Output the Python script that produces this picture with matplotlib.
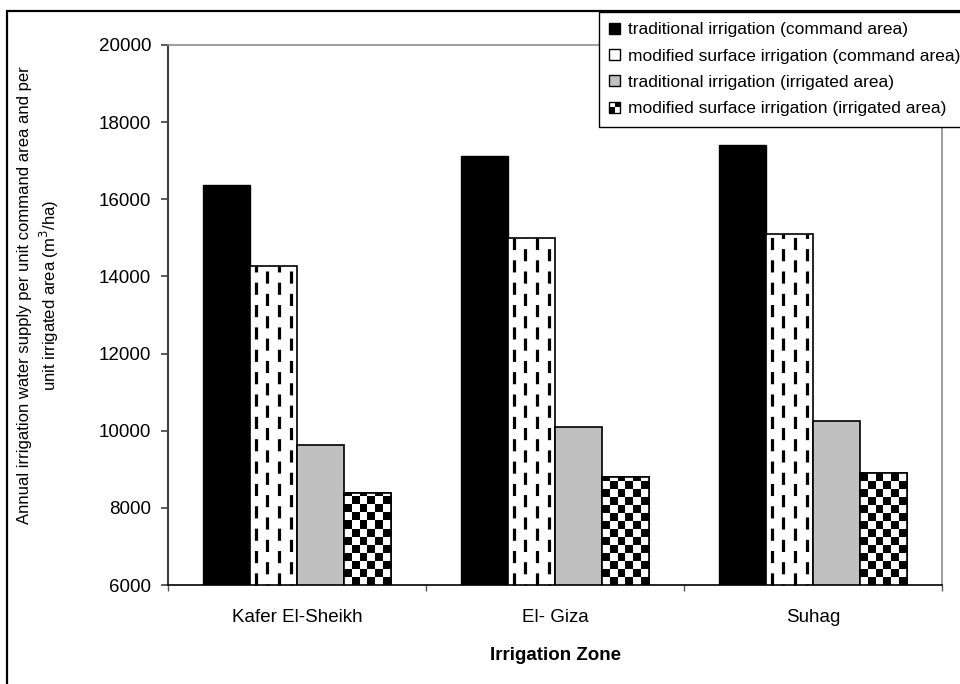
#!/usr/bin/env python3
import numpy as np
import matplotlib
matplotlib.use('Agg')
import matplotlib.pyplot as plt
from matplotlib.patches import Rectangle
from matplotlib.colors import ListedColormap
from matplotlib.legend_handler import HandlerBase

plt.rcParams['font.family'] = ['Liberation Sans', 'DejaVu Sans']

zones = ['Kafer El-Sheikh', 'El- Giza', 'Suhag']
trad_cmd = [16370, 17120, 17400]   # traditional irrigation (command area)
mod_cmd = [14280, 15000, 15100]    # modified surface irrigation (command area)
trad_irr = [9630, 10100, 10250]    # traditional irrigation (irrigated area)
mod_irr = [8390, 8800, 8900]       # modified surface irrigation (irrigated area)

legend_labels = ['traditional irrigation (command area)',
                 'modified surface irrigation (command area)',
                 'traditional irrigation (irrigated area)',
                 'modified surface irrigation (irrigated area)']

ymin, ymax = 6000, 20000
my_yticks = np.arange(6000, 20001, 2000)


class CheckerHandler(HandlerBase):
    def create_artists(self, legend, orig_handle, xdescent, ydescent,
                       width, height, fontsize, trans):
        x0, y0 = -xdescent, -ydescent
        hw, hh = width / 2, height / 2
        base = Rectangle((x0, y0), width, height, facecolor='white',
                         edgecolor='black', lw=1, transform=trans)
        q1 = Rectangle((x0 + hw, y0 + hh), hw, hh, facecolor='black', lw=0, transform=trans)
        q2 = Rectangle((x0, y0), hw, hh, facecolor='black', lw=0, transform=trans)
        return [base, q1, q2]


fig = plt.figure(figsize=(9.6, 6.84), dpi=100)
ax = fig.add_axes([168/960, 99/684, (942-168)/960, 540/684])

X_axis = np.arange(len(zones))
barwidth = 0.182

b1 = ax.bar(X_axis - barwidth*1.5, trad_cmd, width=barwidth, bottom=0, color='black',
            edgecolor='black', lw=1, zorder=2)
b2 = ax.bar(X_axis - barwidth*0.5, mod_cmd, width=barwidth, color='white',
            edgecolor='black', lw=1.2, zorder=2)
b3 = ax.bar(X_axis + barwidth*0.5, trad_irr, width=barwidth, color='#c0c0c0',
            edgecolor='black', lw=1.2, zorder=2)
b4 = ax.bar(X_axis + barwidth*1.5, mod_irr, width=barwidth, color='white',
            edgecolor='black', lw=1.2, zorder=2)

# dashed vertical pattern inside the second series
fracs = [0.12, 0.37, 0.62, 0.87]
for p, v in zip(b2, mod_cmd):
    for k, f in enumerate(fracs):
        xc = p.get_x() + f * p.get_width()
        ln, = ax.plot([xc, xc], [ymin, v], color='black', lw=2.3,
                      linestyle=((k % 2) * 3.5, (3.8, 3.2)), solid_capstyle='butt',
                      zorder=3)
        ln.set_clip_path(p)

# checkerboard pattern inside the fourth series
cell_h = 8 * (ymax - ymin) / 540.0
chk_cmap = ListedColormap(['white', 'black'])
for p, v in zip(b4, mod_irr):
    rows = int(np.ceil((v - ymin) / cell_h))
    arr = np.add.outer(np.arange(rows), np.arange(6)) % 2
    im = ax.imshow(arr, cmap=chk_cmap, origin='lower', aspect='auto',
                   interpolation='nearest',
                   extent=(p.get_x(), p.get_x() + p.get_width(), ymin, ymin + rows*cell_h),
                   zorder=3)
    im.set_clip_path(p)
    edge = Rectangle((p.get_x(), ymin), p.get_width(), v - ymin, fill=False,
                     edgecolor='black', lw=1.2, zorder=4)
    ax.add_patch(edge)

ax.set_xlim(-0.5, len(zones) - 0.5)
ax.set_ylim(ymin, ymax)
ax.set_yticks(my_yticks)
ax.set_xticks(X_axis)
ax.set_xticklabels(zones)
ax.set_xticks([-0.5, 0.5, 1.5, 2.5], minor=True)
ax.tick_params(axis='x', which='major', length=0, pad=17, labelsize=13.5)
ax.tick_params(axis='x', which='minor', length=4, width=1, direction='out', color='#555555')
ax.tick_params(axis='y', length=5, width=1.2, direction='out', color='#404040',
               pad=7, labelsize=13.5)

for s in ['top', 'right']:
    ax.spines[s].set_color('#8c8c8c')
    ax.spines[s].set_linewidth(1.2)
ax.spines['left'].set_color('#404040')
ax.spines['left'].set_linewidth(1.5)
ax.spines['bottom'].set_color('black')
ax.spines['bottom'].set_linewidth(1.2)

ax.set_xlabel('Irrigation Zone', fontsize=13.5, fontweight='bold', labelpad=15.5)
fig.text(39/960, 1 - 295/684,
         'Annual irrigation water supply per unit command area and per\n'
         'unit irrigated area (m$^3$/ha)',
         rotation=90, ha='center', va='center', multialignment='center',
         fontsize=12, linespacing=1.35)

# legend with square swatches
h1 = Rectangle((0, 0), 1, 1, facecolor='black', edgecolor='black', lw=1)
h2 = Rectangle((0, 0), 1, 1, facecolor='white', edgecolor='black', lw=1)
h3 = Rectangle((0, 0), 1, 1, facecolor='#c0c0c0', edgecolor='black', lw=1)
h4 = Rectangle((0, 0), 1, 1)
leg = fig.legend([h1, h2, h3, h4], legend_labels, loc='upper left',
                 bbox_to_anchor=(599/960, 1 - 12/684), bbox_transform=fig.transFigure,
                 borderaxespad=0, fontsize=12.5, handlelength=0.6, handleheight=0.6,
                 handletextpad=0.45, labelspacing=0.65, borderpad=0.6,
                 fancybox=False, framealpha=1, edgecolor='black',
                 handler_map={h4: CheckerHandler()})
leg.get_frame().set_linewidth(1.0)

# outer border of the chart area
fig.patches.append(Rectangle((7/960, -0.1), 1.2, 1 - 11/684 + 0.1, transform=fig.transFigure,
                             fill=False, edgecolor='black', lw=1.6, zorder=10))

fig.savefig('out.png', dpi=100)
